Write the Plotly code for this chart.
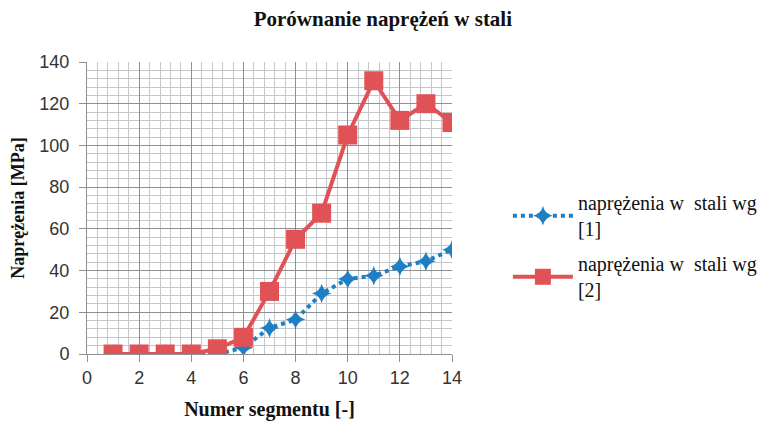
import plotly.graph_objects as go

segments = list(range(1, 15))
stress_1 = [0, 0, 0, 0, 0, 3, 12.5, 16.5, 29, 36, 37.5, 42, 44.5, 50]
stress_2 = [0, 0, 0, 0, 2.5, 8, 30, 55, 67.5, 105, 131, 112, 120, 111]
name_1 = "naprężenia w  stali wg<br>[1]"
name_2 = "naprężenia w  stali wg<br>[2]"

BLUE = "#1f7fc4"
RED = "#e05256"
serif = "Liberation Serif, Times New Roman, serif"
sans = "Liberation Sans, Arial, sans-serif"

fig = go.Figure()
fig.add_trace(go.Scatter(
    x=segments, y=stress_1, name=name_1, mode="lines+markers", legendgroup="a",
    line=dict(color=BLUE, width=4, dash="dot"),
    marker=dict(symbol="star-diamond", size=14, color=BLUE),
))
fig.add_trace(go.Scatter(
    x=segments, y=stress_2, name=name_2, mode="lines+markers", legendgroup="b",
    line=dict(color=RED, width=4),
    marker=dict(symbol="square", size=19, color=RED),
))

axis_common = dict(
    showgrid=True, gridcolor="#8c9092", gridwidth=1,
    showline=True, linecolor="#8c9092", linewidth=1,
    zeroline=False, ticks="outside", ticklen=7, tickcolor="#8c9092",
    tickfont=dict(family=sans, size=18, color="#333333"),
    automargin=False,
)
fig.update_xaxes(
    range=[0, 14], dtick=2, tick0=0,
    minor=dict(dtick=0.4, showgrid=True, gridcolor="#c4c7c9", gridwidth=1),
    title=dict(text="<b>Numer segmentu [-]</b>", font=dict(family=serif, size=20, color="#111")),
    **axis_common,
)
fig.update_yaxes(
    range=[0, 140], dtick=20, tick0=0, ticklabelstandoff=6,
    minor=dict(dtick=4, showgrid=True, gridcolor="#c4c7c9", gridwidth=1),
    title=dict(text="<b>Naprężenia [MPa]</b>", font=dict(family=serif, size=18, color="#111")),
    **axis_common,
)
fig.update_layout(
    width=765, height=424,
    margin=dict(l=79, r=320, t=54, b=78),
    paper_bgcolor="white", plot_bgcolor="white",
    title=dict(text="<b>Porównanie naprężeń w stali</b>", x=0.49, xanchor="center",
               yref="container", y=0.976, yanchor="middle",
               font=dict(family=serif, size=21, color="#111")),
    legend=dict(x=1.15, y=0.585, xanchor="left", yanchor="top",
                font=dict(family=serif, size=20, color="#111"),
                tracegroupgap=6, itemwidth=60),
    showlegend=True,
)
fig.write_html("out.html")
